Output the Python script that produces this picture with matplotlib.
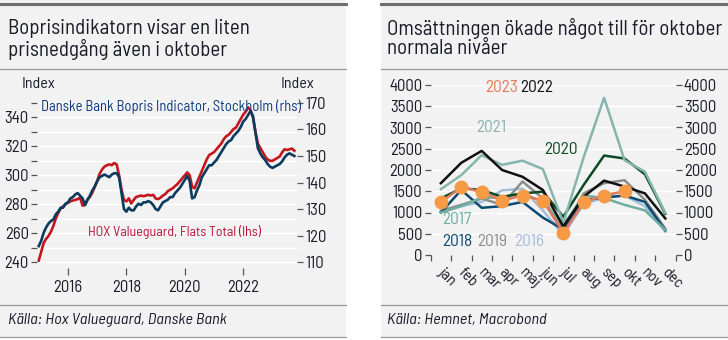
import matplotlib
matplotlib.use("Agg")
import matplotlib.pyplot as plt
from matplotlib.patches import Rectangle
from matplotlib.lines import Line2D
from matplotlib.transforms import ScaledTranslation
import numpy as np

# ---------------- data ----------------
start_year = 2015
hox_flats = [  # HOX Valueguard, Flats Total (lhs), monthly Jan 2015 - Oct 2023
    241, 247, 253, 256, 258, 261, 265, 270, 274, 277, 278.5, 280,
    281, 282, 282.5, 283, 283.5, 284.5, 279, 279.5, 283, 285, 288, 292,
    296, 301, 304, 306, 307, 307.5, 307, 308.5, 307.5, 300, 290, 283,
    282, 284, 280.5, 283, 285, 285.5, 286, 285.5, 286, 286.5, 286, 286.5,
    284, 283.5, 284.5, 286, 287, 289, 290, 291, 292.5, 294, 296, 298,
    300, 302, 300, 292, 291, 295, 299, 303, 307, 311, 314, 315,
    316, 318, 320, 322, 325, 327, 328, 330, 332, 333, 336, 339,
    342, 344, 347, 345, 340, 330, 322, 319, 316, 313, 311, 310,
    310, 311, 312, 313, 316, 318, 317.5, 318, 318.5, 317,
]
danske_sthlm = [  # Danske Bank Bopris Indicator, Stockholm (rhs)
    116, 118, 121, 123, 124.5, 125.5, 126, 128, 129, 130.5, 130.5, 132,
    132.5, 134, 134.5, 135.5, 136, 135, 134, 131.5, 133.5, 135, 137, 138.5,
    140.5, 142, 142.5, 143, 142.5, 142, 143, 143.5, 143.5, 142, 136, 130,
    129, 130.5, 129.5, 129.5, 131, 132, 131.5, 132.5, 132.5, 133, 132.5, 131.5,
    130, 129.5, 131, 132.5, 133, 133.5, 134.5, 134.5, 136, 137, 138, 139.5,
    141, 142.5, 140.5, 134, 134.5, 137, 139, 142, 143.5, 145, 146.5, 146.5,
    147.5, 148.5, 150, 151.5, 153, 154.5, 155.5, 156, 157.5, 158.5, 159.5, 161,
    163, 164, 165.5, 167, 165, 159, 153, 151, 149.5, 148.5, 147, 146,
    145.5, 146, 146.5, 147, 148, 149.5, 150.5, 151, 150.5, 150,
]
left_yticks = [240, 260, 280, 300, 320, 340]
right_yticks = [110, 120, 130, 140, 150, 160, 170]
year_ticks = [2016, 2018, 2020, 2022]

months = ["jan", "feb", "mar", "apr", "maj", "jun", "jul", "aug", "sep", "okt", "nov", "dec"]
sales_2016 = [1000, 1150, 1250, 1520, 1560, 1050, 470, 1200, 1350, 1400, 1150, 550]
sales_2017 = [1000, 1150, 1350, 1350, 1450, 1250, 700, 1400, 1340, 1180, 1050, 590]
sales_2018 = [1000, 1530, 1110, 1150, 1250, 880, 600, 1300, 1350, 1400, 1250, 580]
sales_2019 = [1040, 1180, 1330, 1180, 1730, 1330, 600, 1450, 1690, 1760, 1300, 620]
sales_2020 = [1330, 1570, 1530, 1370, 1450, 1490, 900, 1650, 2340, 2270, 1900, 970]
sales_2021 = [1550, 1880, 2350, 2120, 2220, 2020, 760, 2300, 3700, 2230, 1960, 990]
sales_2022 = [1690, 2170, 2450, 2000, 1840, 1530, 670, 1370, 1750, 1610, 1450, 860]
sales_2023 = [1240, 1600, 1480, 1280, 1400, 1280, 520, 1240, 1400, 1500]
sales_yticks = [0, 500, 1000, 1500, 2000, 2500, 3000, 3500, 4000]

# ---------------- style ----------------
plt.rcParams["font.family"] = ["Barlow Semi Condensed", "Asap Condensed", "Archivo Narrow", "DejaVu Sans"]
TXT = "#1b1b2a"
W, H = 728, 340

fig = plt.figure(figsize=(W / 100, H / 100), dpi=100)
fig.patch.set_facecolor("white")

def fx(x):
    return x / W

def fy(y):
    return 1 - y / H

# panel backgrounds and rules
for x0, x1 in [(0, 346), (381, 728)]:
    fig.patches.append(Rectangle((fx(x0), fy(338)), fx(x1 - x0), (338) / H,
                                 transform=fig.transFigure, facecolor="#F2F2F2",
                                 edgecolor="none", zorder=-5))
    fig.add_artist(Line2D([fx(x0), fx(x1)], [fy(4), fy(4)], color="#6E6E6E", lw=2.2))
    for yy in (69, 305, 337):
        fig.add_artist(Line2D([fx(x0), fx(x1)], [fy(yy), fy(yy)], color="#9A9A9A", lw=0.9))

TFS = 15
fig.text(fx(8), fy(28), "Boprisindikatorn visar en liten", fontsize=TFS, color=TXT, va="center")
fig.text(fx(8), fy(49), "prisnedgång även i oktober", fontsize=TFS, color=TXT, va="center")
fig.text(fx(387), fy(28), "Omsättningen ökade något till för oktober", fontsize=TFS, color=TXT, va="center")
fig.text(fx(387), fy(49), "normala nivåer", fontsize=TFS, color=TXT, va="center")
fig.text(fx(8), fy(320), "Källa: Hox Valueguard, Danske Bank", fontsize=11.7, style="italic", color=TXT, va="center")
fig.text(fx(387), fy(320), "Källa: Hemnet, Macrobond", fontsize=11.7, style="italic", color=TXT, va="center")

# ---------------- left chart ----------------
ax = fig.add_axes([fx(37), fy(268), fx(297 - 37), (268 - 100) / H])
ax.set_facecolor("none")
t = start_year + np.arange(len(hox_flats)) / 12.0
ax2 = ax.twinx()
ax.set_xlim(2014.94, 2023.84)
ax.set_ylim(235.85, 352.1)
ax2.set_ylim(107.74, 171.13)
for a in (ax, ax2):
    for s in a.spines.values():
        s.set_visible(False)
ax.set_yticks(left_yticks)
ax.set_yticks(np.arange(250, 351, 20), minor=True)
ax.grid(True, axis="y", which="both", color="white", lw=1.0)
ax.set_axisbelow(True)
ax.tick_params(axis="y", which="both", length=4, width=0.9, color="#555555", pad=2,
               labelsize=12, labelcolor=TXT)
ax.set_xticks(year_ticks)
ax.set_xticklabels([str(y) for y in year_ticks])
ax.tick_params(axis="x", length=5, width=0.9, color="#555555", pad=4, labelsize=12, labelcolor=TXT)
ax2.set_yticks(right_yticks)
ax2.tick_params(axis="y", length=4, width=0.9, color="#555555", pad=2, labelsize=12, labelcolor=TXT)
ax.plot(t, hox_flats, color="#C4161C", lw=1.9, zorder=3)
ax2.plot(t, danske_sthlm, color="#0B3B5E", lw=1.9, zorder=3)
fig.text(fx(38), fy(84), "Index", fontsize=11.5, color=TXT, ha="center", va="center")
fig.text(fx(297), fy(84), "Index", fontsize=11.5, color=TXT, ha="center", va="center")
fig.text(fx(41), fy(107), "Danske Bank Bopris Indicator, Stockholm (rhs)", fontsize=10.5,
         color="#0B3B7E", va="center")
fig.text(fx(88), fy(232), "HOX Valueguard, Flats Total (lhs)", fontsize=10,
         color="#B8123A", va="center")

# ---------------- right chart ----------------
bx = fig.add_axes([fx(430.7), fy(255), fx(675.5 - 430.7), (255 - 85) / H])
bx.set_facecolor("none")
for s in bx.spines.values():
    s.set_visible(False)
bx.set_xlim(-0.5, 11.5)
bx.set_ylim(0, 4000)
bx.set_yticks(sales_yticks)
bx.grid(True, axis="y", color="white", lw=1.0)
bx.set_axisbelow(True)
bx.tick_params(axis="y", length=4, width=0.9, color="#555555", pad=2, labelsize=12,
               labelcolor=TXT, right=True, labelright=True)
x = np.arange(12)
bx.set_xticks(x)
bx.set_xticklabels(months, rotation=-45, ha="left", va="top", rotation_mode="anchor")
bx.set_xticks(np.arange(-0.5, 12, 1), minor=True)
bx.tick_params(axis="x", which="major", length=0, pad=7, labelsize=11.5, labelcolor=TXT)
bx.tick_params(axis="x", which="minor", length=4, width=0.9, color="#555555")
shift = ScaledTranslation(4 / 100, 0, fig.dpi_scale_trans)
for lbl in bx.get_xticklabels():
    lbl.set_transform(lbl.get_transform() + shift)

series = [
    (sales_2016, "#A4BDD8"),
    (sales_2019, "#8C8C8C"),
    (sales_2018, "#0C4A72"),
    (sales_2017, "#6FAE9F"),
    (sales_2020, "#0B4A22"),
    (sales_2021, "#86B5AE"),
    (sales_2022, "#111111"),
]
for vals, col in series:
    bx.plot(x, vals, color=col, lw=1.8, zorder=3)
bx.plot(x[:len(sales_2023)], sales_2023, color="#E2785C", lw=1.8, zorder=4,
        marker="o", ms=9, mfc="#F79A45", mec="#F79A45", clip_on=False)

fs = 12.5
fig.text(fx(502), fy(88), "2023", fontsize=fs, color="#E8795A", ha="center", va="center")
fig.text(fx(537), fy(88), "2022", fontsize=fs, color="#111111", ha="center", va="center")
fig.text(fx(491), fy(127), "2021", fontsize=fs, color="#86B5AE", ha="center", va="center")
fig.text(fx(561), fy(149), "2020", fontsize=fs, color="#0B4A22", ha="center", va="center")
fig.text(fx(457), fy(220), "2017", fontsize=fs, color="#6FAE9F", ha="center", va="center")
fig.text(fx(457), fy(241), "2018", fontsize=fs, color="#0C4A72", ha="center", va="center")
fig.text(fx(492), fy(241), "2019", fontsize=fs, color="#8C8C8C", ha="center", va="center")
fig.text(fx(529), fy(241), "2016", fontsize=fs, color="#A4BDD8", ha="center", va="center")

fig.savefig("out.png", dpi=100, facecolor="white")
